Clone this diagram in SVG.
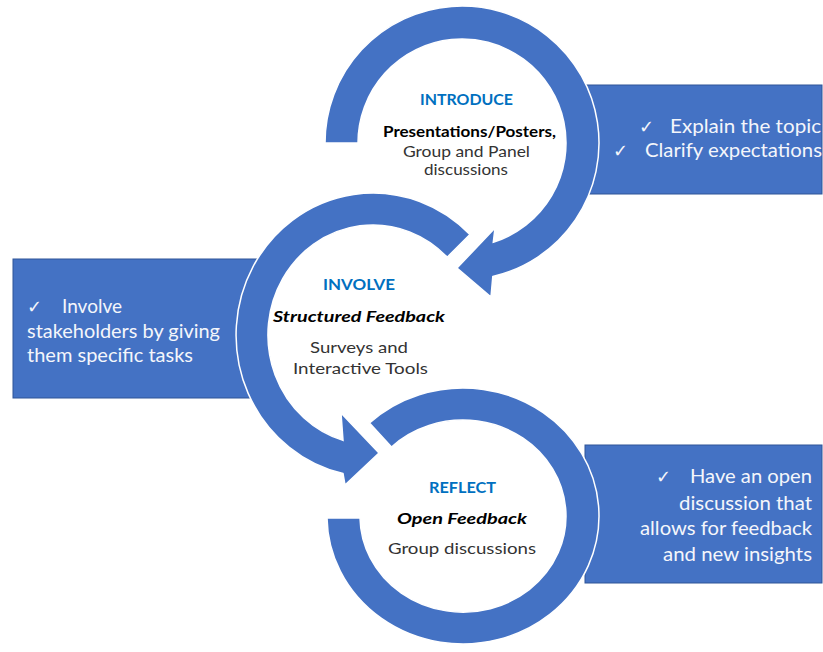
<svg xmlns="http://www.w3.org/2000/svg" width="823" height="652" viewBox="0 0 823 652">
<style>
  .box{fill:#4472C4;stroke:#2F5597;stroke-width:1}
  .ring{fill:#4472C4;stroke:#FFFFFF;stroke-width:1.5;stroke-linejoin:miter}
  .t{font-family:Lato,"Open Sans","DejaVu Sans",sans-serif;font-size:16px;text-anchor:middle}
  .head{font-weight:bold;fill:#0070C0}
  .blk{font-weight:bold;fill:#000}
  .bi{font-weight:bold;font-style:italic;fill:#000}
  .reg{fill:#333}
  .bt{font-family:Lato,"Open Sans","DejaVu Sans",sans-serif;font-size:20px;fill:#F4F6FB}
  .chk{font-family:"DejaVu Sans",sans-serif;font-size:18px;fill:#F4F6FB}
  .end{text-anchor:end}
</style>
<rect width="823" height="652" fill="#FFFFFF"/>

<g id="box-introduce">
  <rect class="box" x="585" y="85" width="237" height="109"/>
  <text class="chk" x="639" y="133">✓</text>
  <text class="bt end" x="821" y="133" textLength="151" lengthAdjust="spacingAndGlyphs">Explain the topic</text>
  <text class="chk" x="613" y="157">✓</text>
  <text class="bt end" x="822" y="157" textLength="177" lengthAdjust="spacingAndGlyphs">Clarify expectations</text>
</g>
<g id="box-involve">
  <rect class="box" x="13" y="259" width="250" height="139"/>
  <text class="chk" x="27" y="313">✓</text>
  <text class="bt" x="62" y="313" textLength="60" lengthAdjust="spacingAndGlyphs">Involve</text>
  <text class="bt" x="27" y="337.5" textLength="193" lengthAdjust="spacingAndGlyphs">stakeholders by giving</text>
  <text class="bt" x="27" y="361.5" textLength="166" lengthAdjust="spacingAndGlyphs">them specific tasks</text>
</g>
<g id="box-reflect">
  <rect class="box" x="585" y="445" width="237" height="138"/>
  <text class="chk" x="656" y="483">✓</text>
  <text class="bt end" x="812" y="483" textLength="122" lengthAdjust="spacingAndGlyphs">Have an open</text>
  <text class="bt end" x="812" y="509.5" textLength="133" lengthAdjust="spacingAndGlyphs">discussion that</text>
  <text class="bt end" x="812" y="535" textLength="172" lengthAdjust="spacingAndGlyphs">allows for feedback</text>
  <text class="bt end" x="812" y="561" textLength="149" lengthAdjust="spacingAndGlyphs">and new insights</text>
</g>

<g id="connectors">
  <path id="arrow-introduce" class="ring" d="M325,143 A137,137 0 1 1 492.8,276.5 L491,297 L457,268 L495,228 L493.3,242.2 A104,104 0 1 0 358,143 Z"/>
  <path id="arrow-involve" class="ring" d="M469.9,234.6 A137,142 0 1 0 343,473.6 L345,485 L379,453 L341,413 L343,440.4 A105,110 0 1 1 447.2,257.2 Z"/>
  <path id="ring-reflect" class="ring" d="M369.5,423 A136,128 0 1 1 327,518 L360,518 A103,96 0 1 0 391.5,447 Z"/>
</g>

<g id="node-introduce">
  <text class="t head" x="466.5" y="105" textLength="93" lengthAdjust="spacingAndGlyphs">INTRODUCE</text>
  <text class="t blk" x="469.5" y="137" textLength="173" lengthAdjust="spacingAndGlyphs">Presentations/Posters,</text>
  <text class="t reg" x="466.5" y="156.5" textLength="127" lengthAdjust="spacingAndGlyphs">Group and Panel</text>
  <text class="t reg" x="466" y="175" textLength="84" lengthAdjust="spacingAndGlyphs">discussions</text>
</g>
<g id="node-involve">
  <text class="t head" x="359" y="290" textLength="72" lengthAdjust="spacingAndGlyphs">INVOLVE</text>
  <text class="t bi" x="359" y="321.5" textLength="172" lengthAdjust="spacingAndGlyphs">Structured Feedback</text>
  <text class="t reg" x="359" y="353" textLength="98" lengthAdjust="spacingAndGlyphs">Surveys and</text>
  <text class="t reg" x="360.5" y="374" textLength="135" lengthAdjust="spacingAndGlyphs">Interactive Tools</text>
</g>
<g id="node-reflect">
  <text class="t head" x="462.5" y="493" textLength="67" lengthAdjust="spacingAndGlyphs">REFLECT</text>
  <text class="t bi" x="462" y="524" textLength="130" lengthAdjust="spacingAndGlyphs">Open Feedback</text>
  <text class="t reg" x="462" y="554" textLength="148" lengthAdjust="spacingAndGlyphs">Group discussions</text>
</g>
</svg>
